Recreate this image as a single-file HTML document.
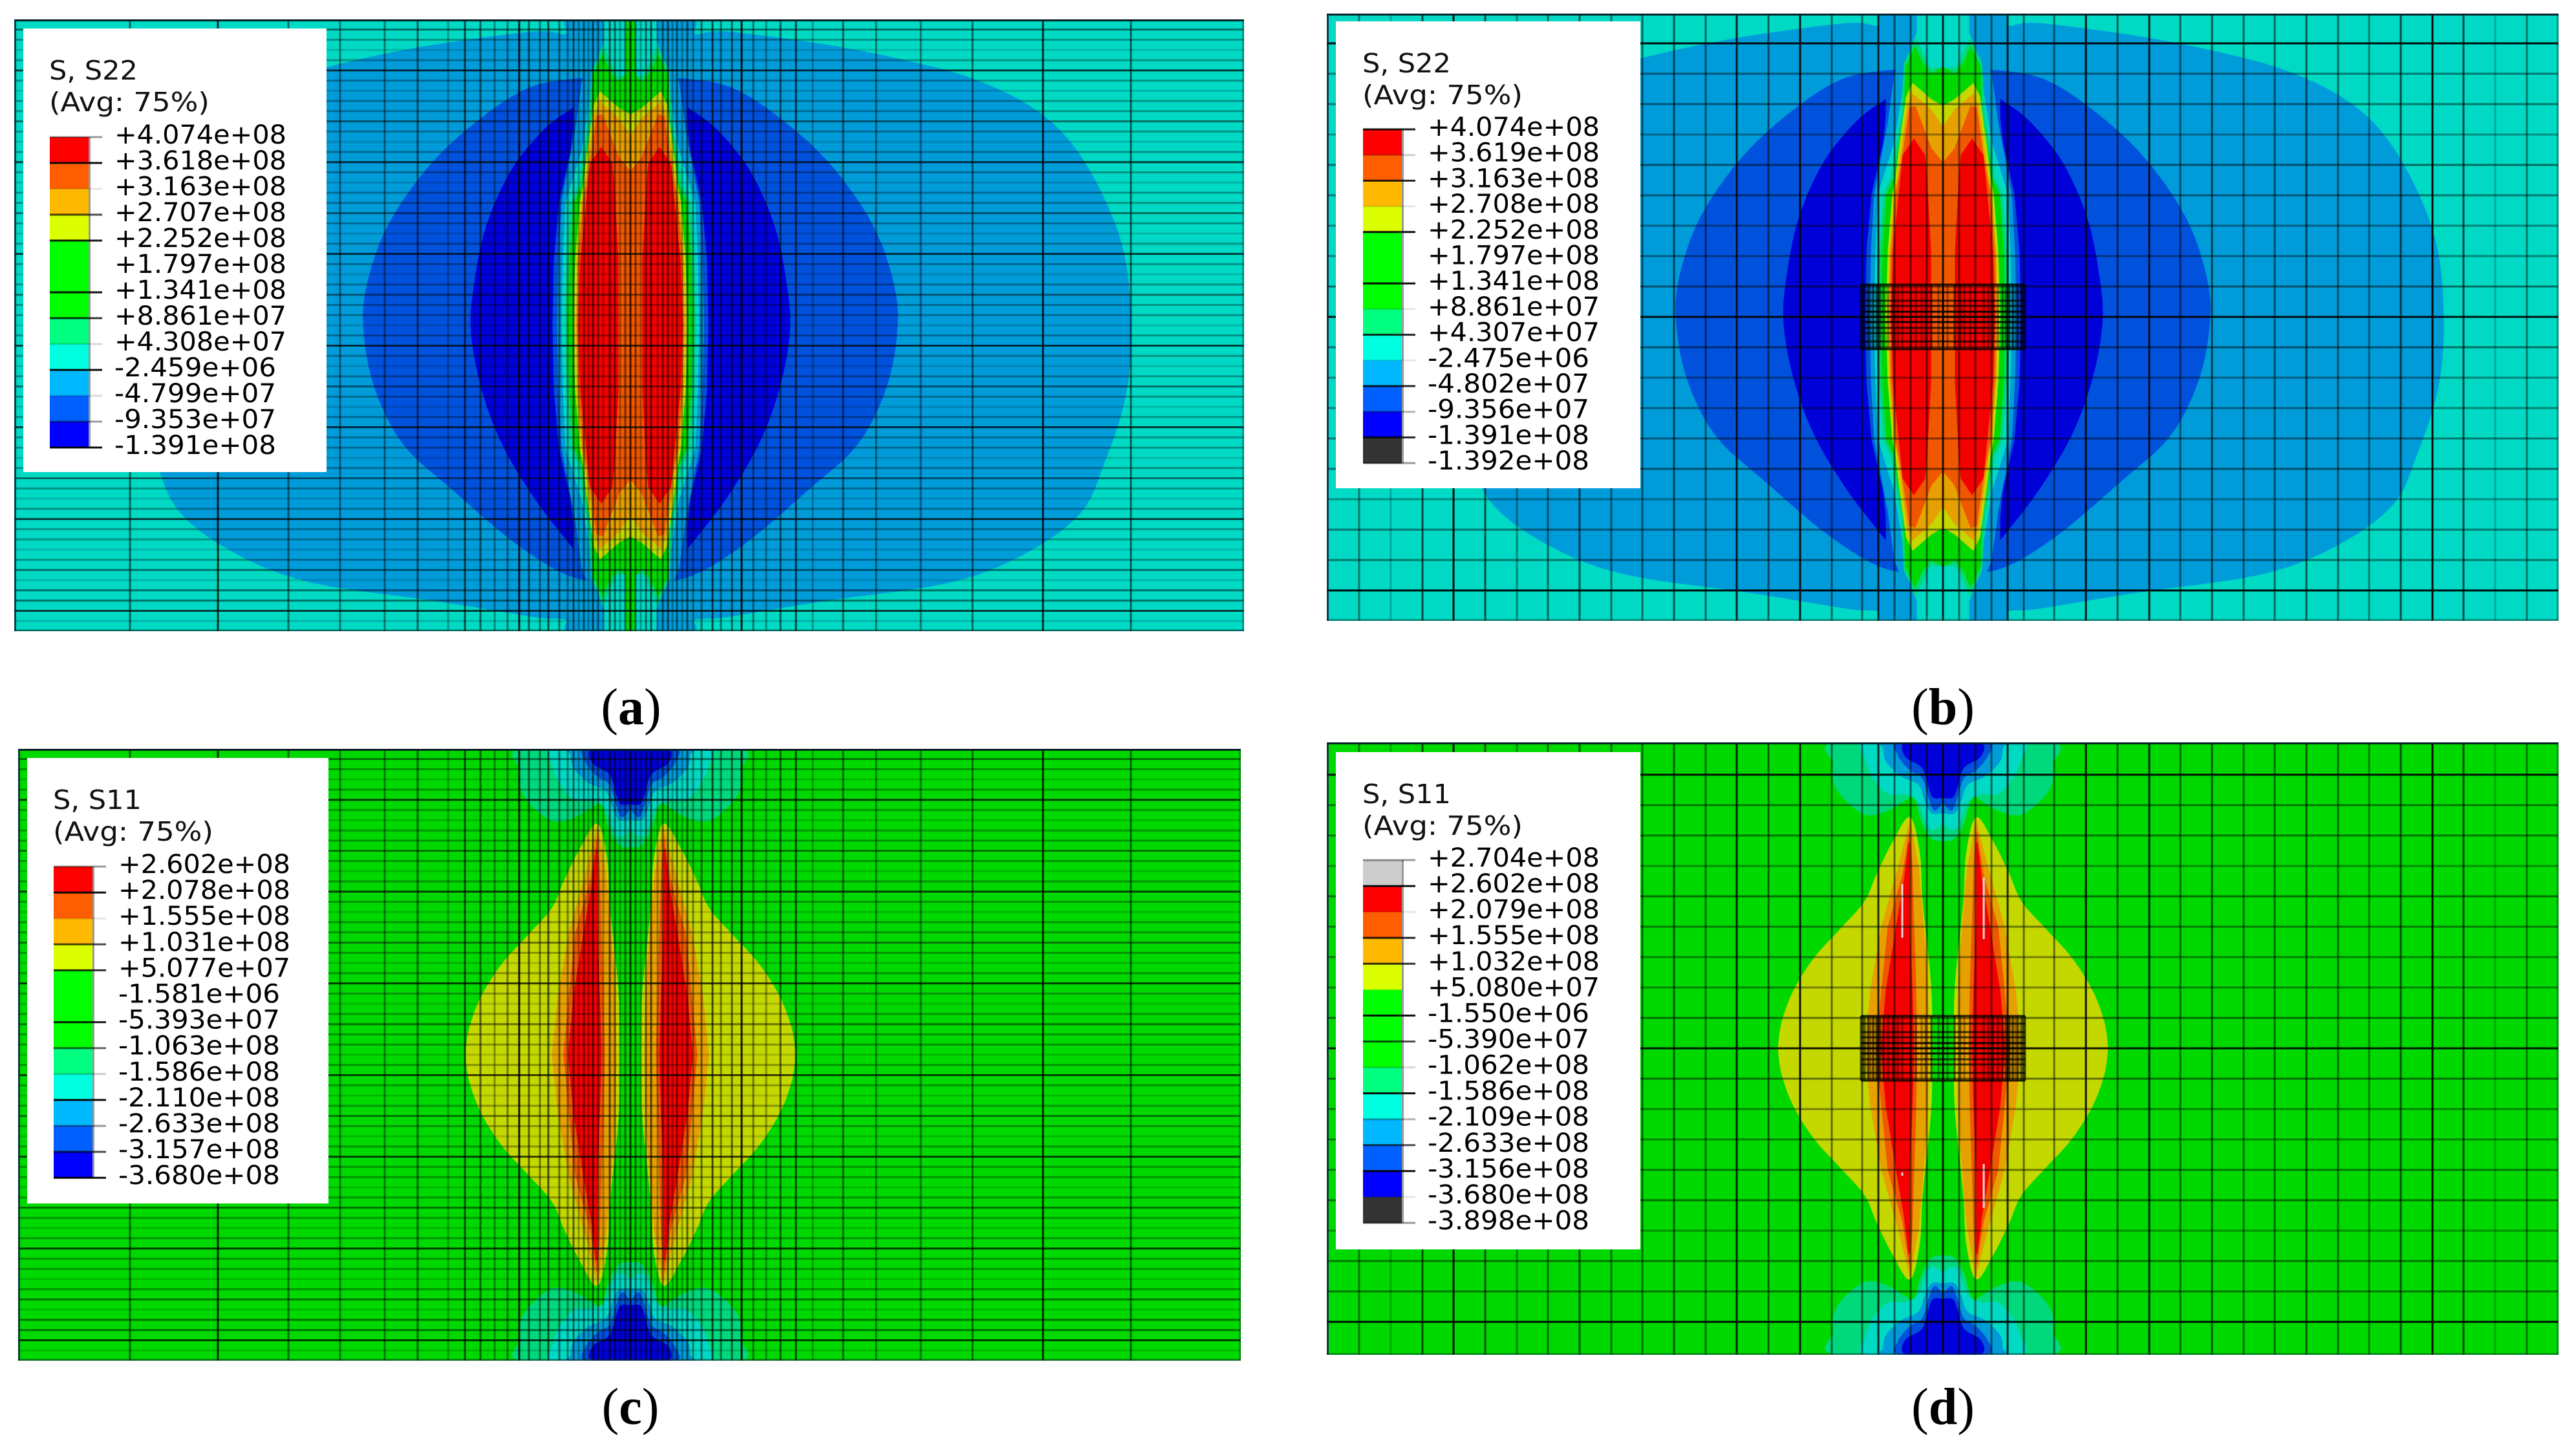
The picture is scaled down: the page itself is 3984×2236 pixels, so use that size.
<!DOCTYPE html>
<html lang="en">
<head>
<meta charset="utf-8">
<title>FEM stress contours S22 and S11</title>
<style>
html,body{margin:0;padding:0;background:#fff;width:3984px;height:2236px;overflow:hidden}
svg{display:block}
</style>
</head>
<body>
<svg id="figure" xmlns="http://www.w3.org/2000/svg" width="3984" height="2236" viewBox="0 0 3984 2236">
  <rect x="0" y="0" width="3984" height="2236" fill="#ffffff"/>
  <g id="panels"></g>
  <g font-family="'Liberation Serif',serif" font-size="80" fill="#000" text-anchor="middle">
    <text x="976" y="1120">(<tspan font-weight="bold">a</tspan>)</text>
    <text x="3005" y="1120">(<tspan font-weight="bold">b</tspan>)</text>
    <text x="975" y="2202">(<tspan font-weight="bold">c</tspan>)</text>
    <text x="3005" y="2202">(<tspan font-weight="bold">d</tspan>)</text>
  </g>
</svg>
<script>
/* ---------- legend values ---------- */
const labelsA = ["+4.074e+08","+3.618e+08","+3.163e+08","+2.707e+08","+2.252e+08","+1.797e+08","+1.341e+08","+8.861e+07","+4.308e+07","-2.459e+06","-4.799e+07","-9.353e+07","-1.391e+08"];
const labelsB = ["+4.074e+08","+3.619e+08","+3.163e+08","+2.708e+08","+2.252e+08","+1.797e+08","+1.341e+08","+8.861e+07","+4.307e+07","-2.475e+06","-4.802e+07","-9.356e+07","-1.391e+08","-1.392e+08"];
const labelsC = ["+2.602e+08","+2.078e+08","+1.555e+08","+1.031e+08","+5.077e+07","-1.581e+06","-5.393e+07","-1.063e+08","-1.586e+08","-2.110e+08","-2.633e+08","-3.157e+08","-3.680e+08"];
const labelsD = ["+2.704e+08","+2.602e+08","+2.079e+08","+1.555e+08","+1.032e+08","+5.080e+07","-1.550e+06","-5.390e+07","-1.062e+08","-1.586e+08","-2.109e+08","-2.633e+08","-3.156e+08","-3.680e+08","-3.898e+08"];
const spectrum = ["#ff0000","#ff5e00","#ffb900","#dcff00","#00ff00","#00ff00","#00ff00","#00ff80","#00ffe0","#00b8ff","#0060ff","#0000ff"];
const bandsA = spectrum;
const bandsB = spectrum.concat(["#333333"]);
const bandsC = spectrum;
const bandsD = ["#cccccc"].concat(spectrum,["#333333"]);
const tickWeightA = [.4,.95,.1,.7,.9,0,.95,.8,.15,.95,.15,.4,.95];
const tickWeightB = [.9,.2,.85,.1,.95,0,.95,.1,.85,.1,.85,.3,.85,.4];
const tickWeightC = [.4,.95,.1,.7,.8,0,.9,.6,.2,.95,.4,.7,.95];
const tickWeightD = [.4,.95,.1,.85,.8,0,.95,.7,.15,.95,.3,.7,.95,.1,.4];

/* ---------- contour outlines (model units: offset from specimen centre, y down) ---------- */
const s22SkyBlob = [[0,-473],[95,-473],[100,-450],[147,-454],[300,-434],[427,-409],[529,-381],[619,-338],[682,-281],[733,-195],[765,-102],[774,12],[765,112],[733,212],[695,291],[606,355],[491,398],[300,426],[147,451],[100,455],[95,473],[0,473]];
const s22BlueBlob = [[0,-381],[83,-381],[159,-366],[236,-316],[312,-245],[376,-152],[408,-59],[412,12],[395,98],[351,184],[274,255],[172,341],[83,391],[0,391]];
const s22DeepBlob = [[89,-336],[134,-302],[185,-238],[223,-152],[242,-59],[246,12],[230,98],[198,184],[147,269],[89,344]];
const s22BlueStripHalf = [[0,-340],[85,-340],[92,-270],[110,-190],[118,-100],[120,0]];
const s22SkyStripHalf = [[0,-400],[65,-400],[75,-376],[85,-300],[106,-190],[111,-100],[113,0]];
const s22TealStripHalf = [[0,-473],[40,-473],[40,-440],[55,-400],[62,-350],[75,-270],[100,-190],[104,-100],[106,0]];
const s22MintHalf = [[0,-385],[20,-385],[42,-431],[60,-392],[64,-316],[72,-266],[80,-216],[92,-190],[98,-100],[101,0]];
const s22GreenHalfA = [[0,-473],[6,-473],[8,-386],[18,-376],[32,-393],[43,-418],[58,-386],[60,-316],[68,-266],[75,-216],[87,-190],[94,-100],[96,0]];
const s22GreenHalfB = [[0,-386],[18,-376],[32,-393],[43,-418],[58,-386],[60,-316],[68,-266],[75,-216],[87,-190],[94,-100],[96,0]];
const s22YellowHalf = [[0,-326],[18,-336],[47,-361],[57,-340],[60,-316],[67,-266],[73,-216],[78,-190],[85,-100],[88,0]];
const s22AmberHalf = [[0,-293],[18,-320],[47,-345],[55,-326],[63,-266],[70,-216],[75,-190],[82,-100],[84,0]];
const s22OrangeHalf = [[0,-238],[18,-260],[43,-326],[52,-323],[60,-266],[68,-216],[73,-190],[80,-100],[82,0]];
const s22RedHalf = [[19,0],[19,-102],[25,-216],[28,-250],[45,-275],[62,-250],[68,-190],[77,-102],[80,0]];

const s11MintCapHalf = [[0,-473],[170,-473],[170,-440],[168,-408],[148,-381],[118,-361],[85,-368],[58,-384],[45,-388],[32,-348],[17,-324],[0,-321]];
const s11TealCapHalf = [[0,-473],[120,-473],[120,-448],[108,-418],[85,-394],[58,-393],[38,-381],[25,-348],[15,-338],[0,-348]];
const s11SkyCapHalf = [[0,-473],[92,-473],[92,-464],[88,-444],[65,-421],[38,-408],[28,-384],[18,-364],[0,-364]];
const s11BlueCapHalf = [[0,-473],[70,-473],[70,-454],[52,-431],[32,-418],[22,-388],[13,-368],[0,-381]];
const s11DeepCapHalf = [[0,-473],[58,-473],[58,-451],[32,-434],[22,-404],[15,-388],[0,-388]];
const s11YellowHalf = [[17,0],[19,-99],[32,-227],[36,-299],[51,-357],[77,-320],[102,-270],[121,-227],[159,-184],[198,-141],[230,-91],[249,-41],[255,0]];
const s11AmberHalf = [[22,0],[24,-100],[30,-188],[38,-280],[51,-352],[68,-285],[95,-188],[112,-90],[121,0]];
const s11OrangeHalf = [[40,0],[42,-100],[45,-188],[48,-290],[52,-335],[62,-270],[85,-188],[95,-90],[103,0]];
const s11RedHalf = [[45,0],[48,-100],[52,-200],[52,-316],[53,-318],[60,-260],[72,-190],[88,-90],[96,0]];
const s11PeakSliversD = [[-63,-254,-171],[63,-264,-169],[-63,192,197],[63,179,247]];

/* ---------- mesh ---------- */
const fineRowWeights = [.95,.6,.4,.2,.4,.9,.4,.2,.4,.4,.6,.4,.2,.4,.9,.4,.2,.4,.4,.6,.4,.2,.4,.9,.4,.2,.4,.6,.4,.4,.2,.4,.9,.4,.2,.4,.6,.4,.2,.4,.9,.4,.4,.2,.4,.6,.4,.2,.4,.9,.4,.4,.2,.4,.6,.2,.6,.6,.9,.2,.4];
const fineColOffsets = [0,8,16,24,32,42,50,58,65,72,80,88,97,110,127,140,157,172,190,210,232,256,282,329,380,449,529,638,774];
const fineColWeights = [.5,.5,.3,.5,.6,.3,.5,.6,.3,.5,.3,.55,.4,.5,.65,.45,.55,.9,.45,.35,.55,.65,.3,.55,.45,.45,.5,.8,.55];
const coarseColOffsets = [0,25,50,75,100,125,172,221,270,319,367,416,465,513,562,611,659,708,757,805,854,903];
const coarseColWeights = [.6,.5,.5,.5,.8,.5,.5,.9,.55,.85,.5,.6,.5,.5,.6,.5,.4,.65,.95,.65,.22,.45];
const coarseRowOffsets = [0,47,94,141,188,235,282,329,376,423];
const coarseRowWeights = [.7,.5,.4,.4,.45,.5,.35,.45,.45,.95];
const localColOffsets = [0,7,18,27,33,42,50,63,70,77,85,92,97,102,108,115,122,127];
const localColWeights = [.65,.35,.6,.4,.35,.4,.55,.4,.4,.6,.4,.5,.5,.55,.5,.5,.5,.6];
const localRowDepths = [-50,-38,-25,-17,-8,0,8,17,25,38,50];
const localRowWeights = [.8,.7,.7,.7,.9,.8,.9,.7,.7,.7,.8];

const tones = {teal:"#00d9c4",sky:"#009cd9",blue:"#0052dc",deep:"#0000d9",mint:"#00d87c",green:"#00d900",yellow:"#c4d800",amber:"#e6a000",orange:"#f05800",red:"#f50000"};

const panels = [
 {id:"a",kind:"s22",green:s22GreenHalfA,left:22,right:1924,top:30,bottom:976,cx:975,cy:503,mesh:"fine",title:"S, S22",labels:labelsA,bands:bandsA,ticks:tickWeightA,
  box:[36,44,505,730],barX:77,tickTop:212,tickStep:40},
 {id:"b",kind:"s22",green:s22GreenHalfB,left:2052,right:3957,top:21,bottom:960,cx:3005,cy:490,mesh:"coarse",title:"S, S22",labels:labelsB,bands:bandsB,ticks:tickWeightB,
  box:[2066,33,2537,755],barX:2108,tickTop:200,tickStep:39.7},
 {id:"c",kind:"s11",left:28,right:1919,top:1158,bottom:2104,cx:975,cy:1631,mesh:"fine",title:"S, S11",labels:labelsC,bands:bandsC,ticks:tickWeightC,
  box:[42,1172,508,1861],barX:83,tickTop:1340,tickStep:40.1},
 {id:"d",kind:"s11",left:2052,right:3957,top:1148,bottom:2095,cx:3005,cy:1621,mesh:"coarse",title:"S, S11",labels:labelsD,bands:bandsD,ticks:tickWeightD,
  box:[2066,1163,2537,1932],barX:2108,tickTop:1330,tickStep:40.07}
];

const NS = "http://www.w3.org/2000/svg";
function svgEl(tag, attrs, parent){
  const el = document.createElementNS(NS, tag);
  for(const k in attrs){ el.setAttribute(k, attrs[k]); }
  if(parent){ parent.appendChild(el); }
  return el;
}
function mirrorV(half){
  const lower = half.slice().reverse().map(p => [p[0], -p[1]]);
  return half.concat(lower);
}
function flipCap(half){ return half.map(p => [p[0], -p[1]]); }
/* Catmull-Rom resampling so the contour outlines read as curves */
function smooth(pts){
  const out = [];
  const steps = 6;
  for(let i=0;i<pts.length-1;i++){
    const p0 = pts[Math.max(i-1,0)], p1 = pts[i], p2 = pts[i+1], p3 = pts[Math.min(i+2,pts.length-1)];
    for(let s=0;s<steps;s++){
      const t = s/steps, t2 = t*t, t3 = t2*t;
      out.push([
        .5*(2*p1[0]+(p2[0]-p0[0])*t+(2*p0[0]-5*p1[0]+4*p2[0]-p3[0])*t2+(3*p1[0]-p0[0]-3*p2[0]+p3[0])*t3),
        .5*(2*p1[1]+(p2[1]-p0[1])*t+(2*p0[1]-5*p1[1]+4*p2[1]-p3[1])*t2+(3*p1[1]-p0[1]-3*p2[1]+p3[1])*t3)
      ]);
    }
  }
  out.push(pts[pts.length-1]);
  return out;
}

function s22Layers(p){
  return [
    [smooth(s22SkyBlob),"sky"],[smooth(s22BlueBlob),"blue"],[smooth(s22DeepBlob),"deep"],
    [mirrorV(s22BlueStripHalf),"blue"],[mirrorV(s22SkyStripHalf),"sky"],[mirrorV(s22TealStripHalf),"teal"],
    [mirrorV(s22MintHalf),"mint"],[mirrorV(p.green),"green"],[mirrorV(s22YellowHalf),"yellow"],
    [mirrorV(s22AmberHalf),"amber"],[mirrorV(s22OrangeHalf),"orange"],[mirrorV(s22RedHalf),"red"]
  ];
}
function s11Layers(){
  const layers = [];
  const caps = [[s11MintCapHalf,"mint"],[s11TealCapHalf,"teal"],[s11SkyCapHalf,"sky"],[s11BlueCapHalf,"blue"],[s11DeepCapHalf,"deep"]];
  caps.forEach(c => { const sm = smooth(c[0]); layers.push([sm,c[1]]); layers.push([flipCap(sm),c[1]]); });
  layers.push([mirrorV(smooth(s11YellowHalf)),"yellow"]);
  layers.push([mirrorV(s11AmberHalf),"amber"]);
  layers.push([mirrorV(s11OrangeHalf),"orange"]);
  layers.push([mirrorV(s11RedHalf),"red"]);
  return layers;
}

const root = document.getElementById("panels");
const defs = svgEl("defs", {}, root);

panels.forEach(p => {
  const sx = x => p.cx + x;
  const sy = y => p.cy + y;
  const width = p.right - p.left, height = p.bottom - p.top;

  const clip = svgEl("clipPath", {id:"clip-"+p.id}, defs);
  svgEl("rect", {x:p.left,y:p.top,width:width,height:height}, clip);

  const g = svgEl("g", {}, root);
  
  

  const plot = svgEl("g", {"clip-path":"url(#clip-"+p.id+")"}, g);
  
  

  const bg = svgEl("rect", {x:p.left,y:p.top,width:width,height:height,fill:p.kind==="s22"?tones.teal:tones.green}, plot);
  
  

  const layers = p.kind==="s22" ? s22Layers(p) : s11Layers();
  layers.forEach(layer => {
    [1,-1].forEach(side => {
      const pts = layer[0].map(q => sx(side*q[0]).toFixed(1)+","+sy(q[1]).toFixed(1)).join(" ");
      const poly = svgEl("polygon", {points:pts,fill:tones[layer[1]],stroke:tones[layer[1]],"stroke-width":1}, plot);
      
      
    });
  });

  if(p.id==="d"){
    s11PeakSliversD.forEach(s => {
      const sl = svgEl("line", {x1:sx(s[0]),x2:sx(s[0]),y1:sy(s[1]),y2:sy(s[2]),stroke:"#e4dcdc","stroke-width":3}, plot);
      
      
    });
  }

  const mesh = svgEl("g", {stroke:"#000","stroke-width":3,fill:"none"}, plot);
  
  

  function hLine(y, w, x1, x2){
    const ln = svgEl("line", {x1:x1,x2:x2,y1:y,y2:y,"stroke-opacity":w}, mesh);
    
    
  }
  function vLine(x, w, y1, y2){
    const ln = svgEl("line", {x1:x,x2:x,y1:y1,y2:y2,"stroke-opacity":w}, mesh);
    
    
  }

  if(p.mesh==="fine"){
    const step = height/(fineRowWeights.length-1);
    fineRowWeights.forEach((w,k) => hLine(p.top+k*step, w*.8, p.left, p.right));
    fineColOffsets.forEach((o,i) => {
      vLine(sx(o), fineColWeights[i], p.top, p.bottom);
      vLine(sx(-o), fineColWeights[i], p.top, p.bottom);
    });
  } else {
    coarseRowOffsets.forEach((o,i) => {
      hLine(sy(o), coarseRowWeights[i], p.left, p.right);
      hLine(sy(-o), coarseRowWeights[i], p.left, p.right);
    });
    coarseColOffsets.forEach((o,i) => {
      vLine(sx(o), coarseColWeights[i], p.top, p.bottom);
      vLine(sx(-o), coarseColWeights[i], p.top, p.bottom);
    });
    localRowDepths.forEach((d,i) => hLine(sy(d), localRowWeights[i], sx(-127), sx(127)));
    localColOffsets.forEach((o,i) => {
      vLine(sx(o), localColWeights[i], sy(-50), sy(50));
      vLine(sx(-o), localColWeights[i], sy(-50), sy(50));
    });
    for(let i=0;i<7;i++){
      vLine(sx(-124+i*4), .35, sy(-50), sy(50));
      vLine(sx(124-i*4), .35, sy(-50), sy(50));
    }
  }

  const frame = svgEl("g", {fill:"none"}, plot);
  
  
  const edges = [
    [p.left,p.top,p.right,p.top,"#001a22",.95,6],
    [p.left,p.top,p.left,p.bottom,"#0a2444",.85,6],
    [p.left,p.bottom,p.right,p.bottom,"#003028",.5,5],
    [p.right,p.top,p.right,p.bottom,"#003028",.45,5]
  ];
  edges.forEach(e => {
    const ln = svgEl("line", {x1:e[0],y1:e[1],x2:e[2],y2:e[3],stroke:e[4],"stroke-opacity":e[5],"stroke-width":e[6]}, frame);
    
    
  });

  /* legend */
  const legend = svgEl("g", {}, g);
  
  
  const box = svgEl("rect", {x:p.box[0],y:p.box[1],width:p.box[2]-p.box[0],height:p.box[3]-p.box[1],fill:"#fff"}, legend);
  
  

  const fontStack = "'DejaVu Sans','Liberation Sans',sans-serif";
  const t1 = svgEl("text", {x:p.barX-1,y:p.box[1]+79,"font-family":fontStack,"font-size":41,fill:"#111",textLength:137,lengthAdjust:"spacingAndGlyphs"}, legend);
  
  
  t1.textContent = p.title;
  const t2 = svgEl("text", {x:p.barX-1,y:p.box[1]+128,"font-family":fontStack,"font-size":41,fill:"#111",textLength:248,lengthAdjust:"spacingAndGlyphs"}, legend);
  
  
  t2.textContent = "(Avg: 75%)";

  const barRight = p.barX + 60;
  const side = svgEl("rect", {x:barRight,y:p.tickTop,width:3,height:p.tickStep*p.bands.length,fill:"#999"}, legend);
  
  

  p.bands.forEach((c,i) => {
    const b = svgEl("rect", {x:p.barX,y:p.tickTop+i*p.tickStep,width:60,height:p.tickStep+.5,fill:c}, legend);
    
    
  });
  p.labels.forEach((txt,i) => {
    const y = p.tickTop+i*p.tickStep;
    const tk = svgEl("line", {x1:p.barX,x2:p.barX+81,y1:y,y2:y,stroke:"#000","stroke-width":3,"stroke-opacity":p.ticks[i]}, legend);
    
    
    const lb = svgEl("text", {x:p.barX+100,y:y+10,"font-family":fontStack,"font-size":40,fill:"#000",textLength:txt[0]==="+"?266:250,lengthAdjust:"spacingAndGlyphs"}, legend);
    
    
    lb.textContent = txt;
  });
});
</script>
</body>
</html>
